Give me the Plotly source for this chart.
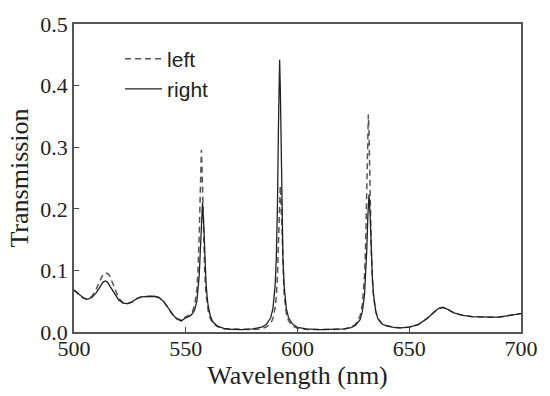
import plotly.graph_objects as go

wavelength = [500, 502, 504, 506, 508, 510, 512, 513, 514, 515, 516, 518, 520, 522, 524, 526, 528, 530,
              532, 534, 536, 538, 540, 542, 544, 546, 548,
              550, 552, 553, 554, 555, 555.5, 556, 556.5, 557, 557.5, 558, 558.5, 559, 559.5, 560, 561,
              562, 564, 567,
              570, 575, 580, 584,
              586, 588, 589, 590, 590.5, 591, 591.5, 592, 592.3, 592.5, 593, 593.5, 594, 595, 596, 598, 600,
              604, 610, 616, 621, 624,
              626, 628, 629, 630, 630.5, 631, 631.5, 631.7, 632, 632.5, 633, 633.5, 634, 635, 636, 638, 640,
              643, 646, 650, 654, 658, 661, 663, 665, 667, 670, 674, 678, 682, 686, 690, 694, 697, 700]

right = [0.068, 0.062, 0.056, 0.053, 0.056, 0.064, 0.076, 0.081, 0.083, 0.081, 0.075, 0.063, 0.052, 0.047,
         0.046, 0.049, 0.054, 0.057, 0.057, 0.058, 0.058, 0.056, 0.050, 0.040, 0.029, 0.021, 0.018,
         0.023, 0.026, 0.030, 0.036, 0.051, 0.066, 0.090, 0.130, 0.181, 0.210, 0.179, 0.126, 0.085, 0.059,
         0.043, 0.026, 0.017, 0.010, 0.006,
         0.0045, 0.004, 0.005, 0.008,
         0.012, 0.023, 0.038, 0.076, 0.118, 0.199, 0.338, 0.442, 0.398, 0.338, 0.199, 0.118, 0.076, 0.038,
         0.023, 0.012, 0.0075,
         0.005, 0.004, 0.004, 0.005, 0.007,
         0.011, 0.020, 0.033, 0.061, 0.089, 0.133, 0.190, 0.210, 0.223, 0.190, 0.133, 0.089, 0.061, 0.034,
         0.021, 0.0125, 0.010,
         0.0076, 0.0066, 0.008, 0.012, 0.022, 0.032, 0.038, 0.040, 0.037, 0.031, 0.027, 0.025, 0.024,
         0.024, 0.024, 0.026, 0.028, 0.030]

left = [0.068, 0.061, 0.055, 0.053, 0.058, 0.070, 0.088, 0.094, 0.096, 0.095, 0.091, 0.072, 0.055, 0.047,
        0.046, 0.049, 0.054, 0.057, 0.058, 0.058, 0.058, 0.056, 0.050, 0.040, 0.029, 0.022, 0.019,
        0.025, 0.028, 0.033, 0.044, 0.070, 0.101, 0.155, 0.240, 0.296, 0.238, 0.152, 0.096, 0.064, 0.045,
        0.035, 0.022, 0.015, 0.009, 0.005,
        0.005, 0.0047, 0.004, 0.0054,
        0.008, 0.014, 0.022, 0.039, 0.057, 0.089, 0.145, 0.218, 0.237, 0.228, 0.160, 0.098, 0.062, 0.030,
        0.018, 0.009, 0.006,
        0.004, 0.0034, 0.004, 0.005, 0.008,
        0.0125, 0.026, 0.044, 0.092, 0.145, 0.237, 0.339, 0.353, 0.324, 0.216, 0.133, 0.086, 0.059, 0.033,
        0.022, 0.0126, 0.010,
        0.0077, 0.0067, 0.008, 0.012, 0.022, 0.032, 0.038, 0.040, 0.037, 0.031, 0.027, 0.025, 0.024,
        0.024, 0.024, 0.026, 0.028, 0.030]

x_ticks = [500, 550, 600, 650, 700]
y_ticks = [0.0, 0.1, 0.2, 0.3, 0.4, 0.5]

serif = "Liberation Serif"

fig = go.Figure()
fig.add_trace(go.Scatter(x=wavelength, y=left, mode="lines", name="left",
                         line=dict(color="#555555", width=1.5, dash="6px,4px")))
fig.add_trace(go.Scatter(x=wavelength, y=right, mode="lines", name="right",
                         line=dict(color="#222222", width=1.3)))

fig.update_layout(
    width=550, height=396,
    margin=dict(l=74, r=28, t=22, b=64),
    paper_bgcolor="white", plot_bgcolor="white",
    showlegend=True,
    legend=dict(x=0.103, y=0.953, xanchor="left", yanchor="top",
                bgcolor="rgba(0,0,0,0)", borderwidth=0, tracegroupgap=0,
                font=dict(family="Liberation Sans", size=21, color="#222222"),
                itemwidth=37),
)
fig.update_xaxes(range=[500, 700], tickvals=x_ticks, ticktext=[str(v) for v in x_ticks],
                 ticks="inside", ticklen=5, tickwidth=1.2, tickcolor="#444444",
                 showline=True, linecolor="#555555", linewidth=1.5, mirror=True,
                 showgrid=False, zeroline=False, ticklabelstandoff=-4,
                 tickfont=dict(family=serif, size=22, color="#222222"),
                 title=dict(text="Wavelength (nm)", font=dict(family=serif, size=26, color="#222222"),
                            standoff=0))
fig.update_yaxes(range=[0, 0.5], tickvals=y_ticks, ticktext=["%.1f" % v for v in y_ticks],
                 ticks="inside", ticklen=5, tickwidth=1.2, tickcolor="#444444",
                 showline=True, linecolor="#555555", linewidth=1.5, mirror=True,
                 showgrid=False, zeroline=False,
                 tickfont=dict(family=serif, size=22, color="#222222"),
                 title=dict(text="Transmission", font=dict(family=serif, size=26, color="#222222"),
                            standoff=4))

fig.write_html("out.html", config={"displayModeBar": False},
               post_script="document.body.style.margin='0';document.body.style.overflow='hidden';")
